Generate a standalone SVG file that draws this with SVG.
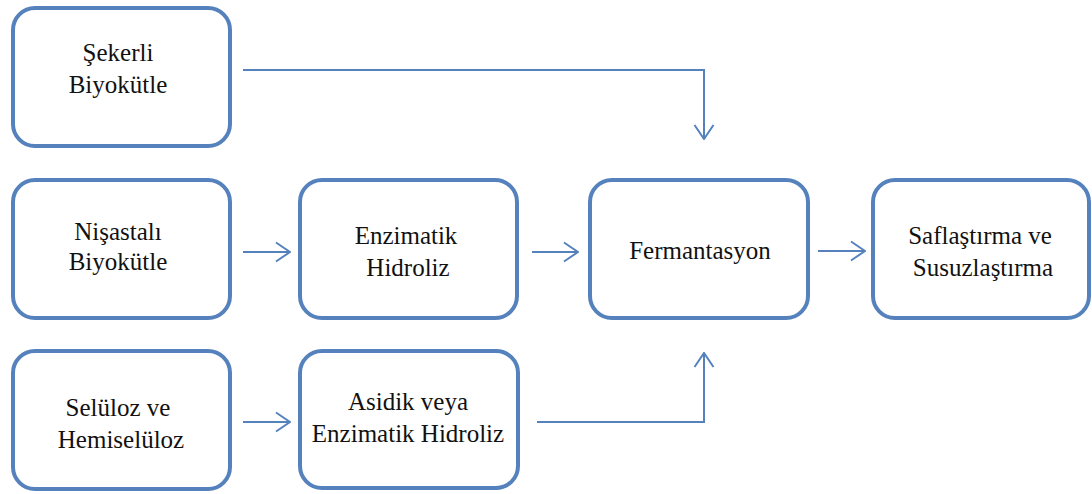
<svg xmlns="http://www.w3.org/2000/svg" width="1092" height="494" viewBox="0 0 1092 494">
<defs>
<style>
.box{fill:#fff;stroke:#5582bd;stroke-width:4}
.lbl{font-family:"Liberation Serif","Times New Roman",serif;font-size:25px;fill:#111;text-anchor:middle}
.con{fill:none;stroke:#5582bd;stroke-width:2}
</style>
<marker id="ah" viewBox="0 0 16 22" refX="15" refY="11" markerWidth="16" markerHeight="22" markerUnits="userSpaceOnUse" orient="auto">
<path d="M1,1.5 L15,11 L1,20.5" fill="none" stroke="#5582bd" stroke-width="2"/>
</marker>
</defs>
<rect width="1092" height="494" fill="#fff"/>
<g id="connectors">
<path class="con" d="M243,70 H704 V139" marker-end="url(#ah)"/>
<path class="con" d="M243,252 H290" marker-end="url(#ah)"/>
<path class="con" d="M532,252 H578" marker-end="url(#ah)"/>
<path class="con" d="M818,251 H865" marker-end="url(#ah)"/>
<path class="con" d="M243,422 H290" marker-end="url(#ah)"/>
<path class="con" d="M537,422 H704 V353" marker-end="url(#ah)"/>
</g>
<g id="sekerli">
<rect class="box" x="13" y="8" width="217" height="138" rx="22"/>
<text class="lbl" x="118" y="61">Şekerli</text>
<text class="lbl" x="118" y="93">Biyokütle</text>
</g>
<g id="nisastali">
<rect class="box" x="13" y="180" width="217" height="138" rx="22"/>
<text class="lbl" x="118" y="240">Nişastalı</text>
<text class="lbl" x="118" y="270">Biyokütle</text>
</g>
<g id="seluloz">
<rect class="box" x="13" y="351" width="217" height="138" rx="22"/>
<text class="lbl" x="118" y="416">Selüloz ve</text>
<text class="lbl" x="121" y="448">Hemiselüloz</text>
</g>
<g id="enzimatik">
<rect class="box" x="300" y="180" width="217" height="138" rx="22"/>
<text class="lbl" x="406" y="244">Enzimatik</text>
<text class="lbl" x="408" y="276">Hidroliz</text>
</g>
<g id="asidik">
<rect class="box" x="300" y="351" width="218" height="137" rx="22"/>
<text class="lbl" x="408" y="410">Asidik veya</text>
<text class="lbl" x="408" y="442">Enzimatik Hidroliz</text>
</g>
<g id="fermantasyon">
<rect class="box" x="590" y="180" width="218" height="138" rx="22"/>
<text class="lbl" x="700" y="259">Fermantasyon</text>
</g>
<g id="saflastirma">
<rect class="box" x="873" y="180" width="216" height="138" rx="22"/>
<text class="lbl" x="980" y="244">Saflaştırma ve</text>
<text class="lbl" x="983" y="276">Susuzlaştırma</text>
</g>
</svg>
